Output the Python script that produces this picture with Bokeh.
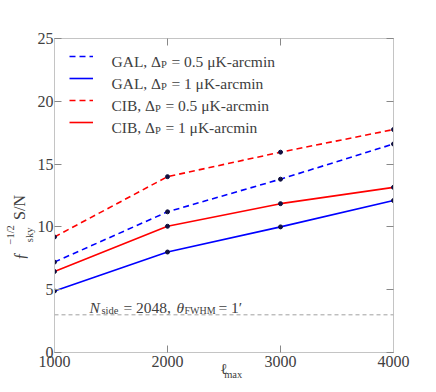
from bokeh.plotting import figure
from bokeh.models import (Range1d, LinearAxis, FixedTicker, Label, Legend, LegendItem, Span)
from bokeh.embed import file_html
from bokeh.resources import INLINE

ell_max = [1000, 2000, 3000, 4000]
gal_05 = [7.2, 11.2, 13.8, 16.6]
gal_1 = [4.9, 8.0, 10.0, 12.1]
cib_05 = [9.2, 14.0, 15.95, 17.75]
cib_1 = [6.45, 10.05, 11.85, 13.15]
noise_floor = 3.0
x_ticks = [1000, 2000, 3000, 4000]
y_ticks = [0, 5, 10, 15, 20, 25]

FONT = "Liberation Serif"
TXT = "#404040"
AX = "#c4c4c4"
TICK = "#888888"
NB = "\u00a0"

p = figure(width=436, height=392, output_backend="svg", toolbar_location=None,
           x_range=Range1d(1000, 4000), y_range=Range1d(0, 25),
           min_border_left=54, min_border_right=43, min_border_top=38, min_border_bottom=40)
p.background_fill_color = "white"
p.border_fill_color = "white"
p.outline_line_color = AX
p.grid.visible = False

xa = p.xaxis[0]
ya = p.yaxis[0]
for ax in (xa, ya):
    ax.axis_line_color = AX
    ax.major_tick_line_color = TICK
    ax.major_tick_in = 7
    ax.major_tick_out = 0
    ax.minor_tick_line_color = None
    ax.major_label_text_font = FONT
    ax.major_label_text_font_size = "16px"
    ax.major_label_text_color = TXT
    ax.axis_label_text_font = FONT
    ax.axis_label_text_color = TXT
    ax.axis_label_text_font_style = "normal"
xa.ticker = FixedTicker(ticks=x_ticks)
ya.ticker = FixedTicker(ticks=y_ticks)
xa.major_label_standoff = 3
ya.major_label_standoff = 1

# frame axes on the other two sides (ticks only)
for loc, tick_list in (("right", y_ticks), ("above", x_ticks)):
    a = LinearAxis(ticker=FixedTicker(ticks=tick_list), major_label_text_color=None,
                   axis_line_color=AX, major_tick_line_color=TICK, major_tick_in=7,
                   major_tick_out=0, minor_tick_line_color=None, major_label_standoff=0)
    p.add_layout(a, loc)


def label_axis(text, size, standoff, loc):
    a = LinearAxis(ticker=FixedTicker(ticks=[]), major_label_text_color=None,
                   axis_line_color=None, major_tick_line_color=None, major_tick_in=0,
                   major_tick_out=0, minor_tick_line_color=None, major_label_standoff=0,
                   axis_label=text, axis_label_text_font=FONT,
                   axis_label_text_font_size=f"{size}px", axis_label_text_color=TXT,
                   axis_label_text_font_style="normal", axis_label_standoff=standoff)
    p.add_layout(a, loc)


# y label: f_sky^{-1/2} S/N  built from three stacked label rows
ya.axis_label = "sky" + NB * 30
ya.axis_label_text_font_size = "10.5px"
ya.axis_label_standoff = 0
label_axis("\u0192" + NB * 8 + "S/N" + NB * 16, 16, -7, "left")
label_axis("\u22121/2" + NB * 30, 10.5, -8, "left")

# x label: l_max
xa.axis_label = "\u2113"
xa.axis_label_text_font_size = "15px"
xa.axis_label_standoff = -9
label_axis(NB * 7 + "max", 10.5, -11, "below")

p.add_layout(Span(location=noise_floor, dimension="width", line_color="#a0a0a0",
                  line_dash="4 3", line_width=1))

series = [
    (gal_05, "blue", "6 4"),
    (gal_1, "blue", "solid"),
    (cib_05, "red", "6 4"),
    (cib_1, "red", "solid"),
]
renderers = []
for ys, col, dash in series:
    r = p.line(ell_max, ys, line_color=col, line_width=1.6, line_dash=dash)
    renderers.append(r)
    p.scatter(ell_max, ys, size=4, color="#101040")

legend = Legend(items=[LegendItem(label=" ", renderers=[r]) for r in renderers],
                location=(15, 219), glyph_width=24, glyph_height=22, label_height=22,
                label_width=1, spacing=0, padding=0, margin=0, border_line_alpha=0,
                background_fill_alpha=0, label_text_color=None, label_standoff=0)
p.add_layout(legend, "center")


def lab(text, xo, yo, size=15.5, style="normal", x=1000, y=0):
    p.add_layout(Label(x=x, y=y, x_offset=xo, y_offset=yo, text=text,
                       text_font=FONT, text_font_size=f"{size}px", text_font_style=style,
                       text_color=TXT, text_baseline="alphabetic", text_align="left"))


# legend texts (anchored at the frame's top-left corner)
legend_rows = [("GAL, \u0394", NB + "=" + NB + "0.5" + NB + "\u03bcK-arcmin", 49),
               ("GAL, \u0394", NB + "=" + NB + "1" + NB + "\u03bcK-arcmin", 49),
               ("CIB, \u0394", NB + "=" + NB + "0.5" + NB + "\u03bcK-arcmin", 43),
               ("CIB, \u0394", NB + "=" + NB + "1" + NB + "\u03bcK-arcmin", 43)]
for i, (a, b, w) in enumerate(legend_rows):
    base_y = -18 - 22 * i - 5
    lab(a, 57, base_y, y=25)
    lab("P", 57 + w + 0.5, base_y - 3, size=10.5, y=25)
    lab(b, 57 + w + 7, base_y, y=25)

# annotation N_side = 2048, theta_FWHM = 1'
ay = 352 - 307
lab("N", 35, ay, style="italic")
lab("side", 47, ay - 3, size=10.5)
lab(NB + "=" + NB + "2048,", 65, ay)
lab("\u03b8", 122, ay, style="italic")
lab("FWHM", 130, ay - 3, size=10)
lab(NB + "=" + NB + "1\u2032", 160, ay)

open("out.html", "w").write(file_html(p, INLINE))
